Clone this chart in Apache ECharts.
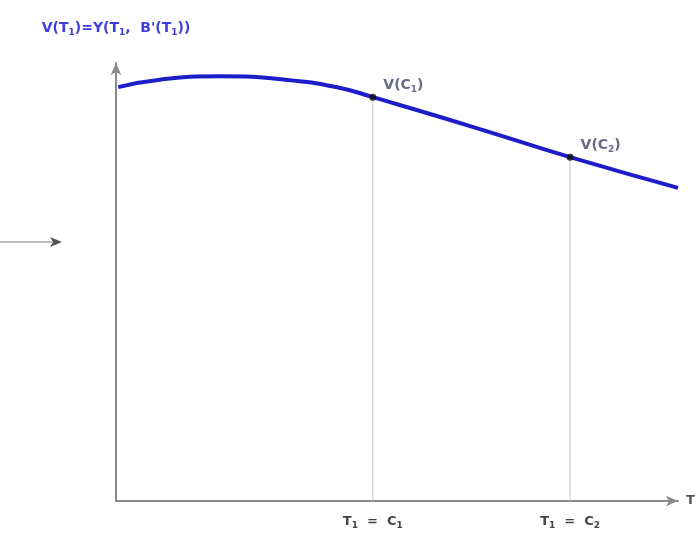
<!DOCTYPE html>
<html>
<head>
<meta charset="utf-8">
<style>
  html, body { margin: 0; padding: 0; background: #fff; }
  #chart { width: 699px; height: 549px; }
</style>
<script src="https://cdn.jsdelivr.net/npm/echarts@6/dist/echarts.min.js"></script>
</head>
<body>
<div id="chart"></div>
<script>
// Value curve V(T1) over time T
const curveT = [0.4, 7.8, 18.5, 30.1, 39.9, 45.7, 63.0, 80.8, 100];
const curveV = [94.5, 96.2, 96.95, 96.2, 94.3, 92.2, 85.6, 78.5, 71.5];

// Marked points on the curve
const pointNames = ['C1', 'C2'];
const pointT = [45.7, 80.8];
const pointV = [92.2, 78.5];

const FONT = 'DejaVu Sans, Liberation Sans, sans-serif';
const sub = { fontSize: 9, fontWeight: 'bold', fontFamily: FONT, padding: [8, 0, 0, 0] };

const chart = echarts.init(document.getElementById('chart'));

const series = [
  {
    type: 'line',
    data: curveT.map((t, i) => [t, curveV[i]]),
    smooth: 0.5,
    symbol: 'none',
    lineStyle: { color: '#1c1cc8', width: 4 },
    z: 3
  }
];

// Drop lines from each marked point to the T axis
pointT.forEach((t, i) => {
  series.push({
    type: 'line',
    data: [[t, 0], [t, pointV[i]]],
    symbol: 'none',
    lineStyle: { color: '#c4c4c4', width: 1 },
    silent: true,
    z: 1
  });
});

series.push({
  type: 'scatter',
  data: pointT.map((t, i) => ({ value: [t, pointV[i]], name: pointNames[i] })),
  symbolSize: 7,
  itemStyle: { color: '#111' },
  z: 4,
  label: {
    show: true,
    position: 'right',
    offset: [2, -12],
    formatter: p => '{a|V(C}{s|' + p.name.slice(1) + '}{a|)}',
    rich: {
      a: { fontSize: 14, fontWeight: 'bold', color: '#44446a', fontFamily: FONT },
      s: Object.assign({ color: '#44446a' }, sub)
    }
  }
});

chart.setOption({
  animation: false,
  backgroundColor: '#fff',
  grid: { left: 116, right: 21, top: 63, bottom: 48 },
  xAxis: {
    type: 'value',
    min: 0,
    max: 100,
    name: 'T',
    nameLocation: 'end',
    nameGap: 8,
    nameTextStyle: { fontSize: 13, fontWeight: 'bold', color: '#555', fontFamily: FONT },
    axisLine: {
      show: true,
      symbol: ['none', 'arrow'],
      symbolSize: [8, 12],
      lineStyle: { color: '#8a8a8a', width: 2 }
    },
    axisTick: { show: false },
    splitLine: { show: false },
    axisLabel: {
      show: true,
      customValues: pointT,
      margin: 12,
      formatter: v => {
        const k = pointT.indexOf(v) + 1;
        return '{a|T}{s|1}{a|  =  C}{s|' + k + '}';
      },
      rich: {
        a: { fontSize: 13, fontWeight: 'bold', color: '#444', fontFamily: FONT },
        s: Object.assign({ color: '#444' }, sub)
      }
    }
  },
  yAxis: {
    type: 'value',
    min: 0,
    max: 100,
    name: "{a|V(T}{s|1}{a|)=Y(T}{s|1}{a|,  B'(T}{s|1}{a|))}",
    nameLocation: 'end',
    nameGap: 26,
    nameTextStyle: {
      align: 'center',
      rich: {
        a: { fontSize: 14, fontWeight: 'bold', color: '#3d3de0', fontFamily: FONT },
        s: Object.assign({ color: '#3d3de0' }, sub)
      }
    },
    axisLine: {
      show: true,
      symbol: ['none', 'arrow'],
      symbolSize: [8, 12],
      lineStyle: { color: '#8a8a8a', width: 2 }
    },
    axisTick: { show: false },
    axisLabel: { show: false },
    splitLine: { show: false }
  },
  // Incoming arrow on the left side
  graphic: [
    {
      type: 'line',
      shape: { x1: 0, y1: 242, x2: 52, y2: 242 },
      style: { stroke: '#a8a8a8', lineWidth: 1.5 }
    },
    {
      type: 'polygon',
      shape: { points: [[50, 237], [62, 242], [50, 247], [53, 242]] },
      style: { fill: '#555' }
    }
  ],
  series: series
});
</script>
</body>
</html>
